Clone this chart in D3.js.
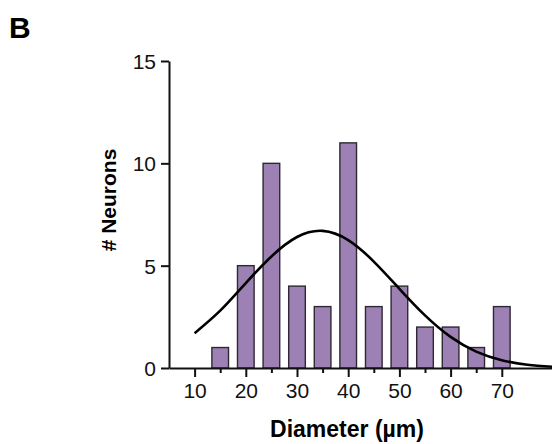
<!DOCTYPE html>
<html>
<head>
<meta charset="utf-8">
<script src="https://cdn.jsdelivr.net/npm/d3@7"></script>
<style>
  body { margin: 0; background: #fff; }
  text { font-family: "Liberation Sans", Arial, sans-serif; }
</style>
</head>
<body>
<div id="chart"></div>
<script>

// histogram bins (bin centre, µm) and counts
var binCenters = [15, 20, 25, 30, 35, 40, 45, 50, 55, 60, 65, 70];
var counts     = [1, 5, 10, 4, 3, 11, 3, 4, 2, 2, 1, 3];

// fitted curve
var fitX = [10, 15, 20, 25, 30, 35, 40, 45, 50, 55, 60, 65, 70, 75, 80];
var fitY = [1.7, 2.8, 4.15, 5.45, 6.4, 6.7, 6.25, 5.2, 3.87, 2.57, 1.52, 0.8, 0.38, 0.16, 0.06];

var xMajor = [10, 20, 30, 40, 50, 60, 70];
var xMinor = [15, 25, 35, 45, 55, 65];
var yTicks = [0, 5, 10, 15];

var width = 552,
    height = 444;

var svg = d3.select("#chart").append("svg")
    .attr("width", width)
    .attr("height", height);

var x = d3.scaleLinear().domain([5, 80]).range([169, 553]);
var y = d3.scaleLinear().domain([0, 15]).range([368, 61]);

var binWidth = 3.25; // in data units

// bars
svg.append("g")
  .selectAll("rect")
  .data(binCenters)
  .enter().append("rect")
    .attr("x", function(d) { return x(d - binWidth / 2); })
    .attr("width", function(d) { return x(d + binWidth / 2) - x(d - binWidth / 2); })
    .attr("y", function(d, i) { return y(counts[i]); })
    .attr("height", function(d, i) { return y(0) - y(counts[i]); })
    .attr("fill", "#9d80b4")
    .attr("stroke", "#2e2833")
    .attr("stroke-width", 1.4);

// fit line
var line = d3.line()
    .x(function(d, i) { return x(fitX[i]); })
    .y(function(d) { return y(d); })
    .curve(d3.curveNatural);

svg.append("path")
    .datum(fitY)
    .attr("d", line)
    .attr("fill", "none")
    .attr("stroke", "#000")
    .attr("stroke-width", 2.6);

// x axis
var xAxis = svg.append("g")
    .attr("transform", "translate(0," + y(0) + ")")
    .call(d3.axisBottom(x).tickValues(xMajor).tickSize(9).tickSizeOuter(0).tickPadding(6));

svg.append("g")
    .attr("transform", "translate(0," + y(0) + ")")
    .call(d3.axisBottom(x).tickValues(xMinor).tickSize(5).tickSizeOuter(0).tickFormat(""))
    .select(".domain").remove();

// y axis
var yAxis = svg.append("g")
    .attr("transform", "translate(" + x(5) + ",0)")
    .call(d3.axisLeft(y).tickValues(yTicks).tickSize(8).tickSizeOuter(0).tickPadding(5));

svg.selectAll(".domain, .tick line")
    .attr("stroke", "#111")
    .attr("stroke-width", 2);

svg.selectAll(".tick text")
    .attr("fill", "#111")
    .style("font-size", "21px")
    .style("font-family", "'Liberation Sans', Arial, sans-serif");

yAxis.selectAll(".tick text").attr("dy", "0.35em");

// labels
svg.append("text")
    .attr("x", 347)
    .attr("y", 437)
    .attr("text-anchor", "middle")
    .style("font-size", "23px")
    .style("font-weight", "bold")
    .text("Diameter (µm)");

svg.append("text")
    .attr("transform", "translate(116,200) rotate(-90)")
    .attr("text-anchor", "middle")
    .style("font-size", "21px")
    .style("font-weight", "bold")
    .text("# Neurons");

svg.append("text")
    .attr("x", 9)
    .attr("y", 38)
    .style("font-size", "30px")
    .style("font-weight", "bold")
    .text("B");

</script>
</body>
</html>
